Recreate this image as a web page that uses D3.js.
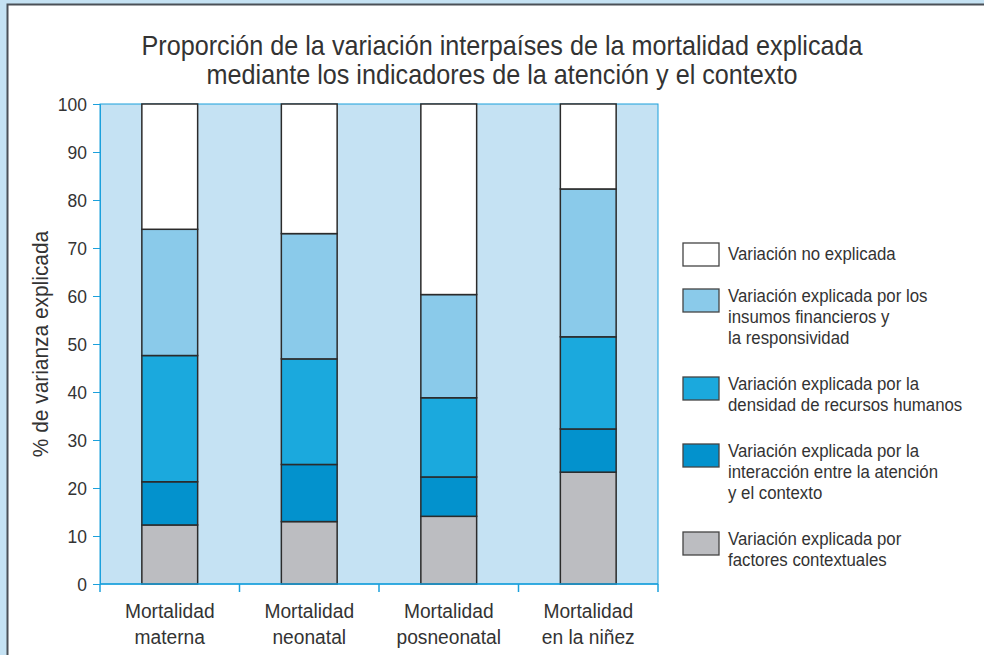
<!DOCTYPE html>
<html>
<head>
<meta charset="utf-8">
<script src="https://cdn.jsdelivr.net/npm/d3@7"></script>
<style>
  body { margin: 0; background: #fff; }
  text { font-family: "Liberation Sans", Arial, sans-serif; fill: #333; }
</style>
</head>
<body>
<script>
// data
let categories = ["Mortalidad materna", "Mortalidad neonatal", "Mortalidad posneonatal", "Mortalidad en la niñez"];
let catLines = [["Mortalidad", "materna"], ["Mortalidad", "neonatal"], ["Mortalidad", "posneonatal"], ["Mortalidad", "en la niñez"]];
let contextuales = [12.3, 13.0, 14.1, 23.3];
let interaccion = [9.0, 11.9, 8.2, 9.0];
let recursosHumanos = [26.3, 22.0, 16.5, 19.2];
let insumos = [26.3, 26.1, 21.5, 30.8];
let noExplicada = [26.1, 27.0, 39.7, 17.7];
let yTicks = [0, 10, 20, 30, 40, 50, 60, 70, 80, 90, 100];

let seriesKeys = ["ctx", "inter", "rh", "ins", "noexp"];
let seriesColors = { ctx: "#bcbdc1", inter: "#0392cd", rh: "#1ba9dd", ins: "#8acaea", noexp: "#ffffff" };
let legendItems = [
  { key: "noexp", lines: ["Variación no explicada"] },
  { key: "ins", lines: ["Variación explicada por los", "insumos financieros y", "la responsividad"] },
  { key: "rh", lines: ["Variación explicada por la", "densidad de recursos humanos"] },
  { key: "inter", lines: ["Variación explicada por la", "interacción entre la atención", "y el contexto"] },
  { key: "ctx", lines: ["Variación explicada por", "factores contextuales"] }
];

let W = 984, H = 655;
let margin = { top: 104, left: 100, bottom: 71, right: 326 };
let width = W - margin.left - margin.right;
let height = H - margin.top - margin.bottom;
let axisBlue = "#1ba0dc";

// horizontal squeeze per text group, gives the narrow look of the original
function sq(k) { return " scale(" + k + ",1)"; }

let table = categories.map((c, i) => ({
  cat: c, ctx: contextuales[i], inter: interaccion[i], rh: recursosHumanos[i], ins: insumos[i], noexp: noExplicada[i]
}));
let stacked = d3.stack().keys(seriesKeys)(table);

let svg = d3.select("body").append("svg")
  .attr("width", W)
  .attr("height", H);

// page frame
svg.append("rect").attr("width", W).attr("height", H).attr("fill", "#c5e2f3");
svg.append("rect").attr("x", 8).attr("y", 5).attr("width", W - 8).attr("height", H - 5).attr("fill", "#fff");
svg.append("path")
  .attr("d", "M7.5," + H + "V4.5H" + W)
  .attr("fill", "none").attr("stroke", "#4b5057").attr("stroke-width", 2);

// title
let title = svg.append("text")
  .attr("transform", "translate(502,0)" + sq(0.9))
  .attr("text-anchor", "middle")
  .style("font-size", "28px");
title.append("tspan").attr("x", 0).attr("y", 55).text("Proporción de la variación interpaíses de la mortalidad explicada");
title.append("tspan").attr("x", 0).attr("y", 84).text("mediante los indicadores de la atención y el contexto");

let g = svg.append("g")
  .attr("transform", "translate(" + margin.left + "," + margin.top + ")");

let x = d3.scaleBand().domain(categories).range([0, width]).padding(0);
let y = d3.scaleLinear().domain([0, 100]).range([height, 0]);

g.append("rect")
  .attr("width", width).attr("height", height)
  .attr("fill", "#c5e2f3")
  .attr("stroke", axisBlue).attr("stroke-width", 1);

let barW = x.bandwidth() * 0.4;

g.selectAll(".layer")
  .data(stacked)
  .enter().append("g")
  .attr("class", "layer")
  .attr("fill", d => seriesColors[d.key])
  .selectAll("rect")
  .data(d => d)
  .enter().append("rect")
  .attr("x", d => x(d.data.cat) + (x.bandwidth() - barW) / 2)
  .attr("width", barW)
  .attr("y", d => y(d[1]))
  .attr("height", d => y(d[0]) - y(d[1]))
  .attr("stroke", "#2b2b2b")
  .attr("stroke-width", 1.5);

// y axis
let tk = 0.92;
let yAxis = g.append("g")
  .attr("font-family", null)
  .call(d3.axisLeft(y).tickValues(yTicks).tickSize(7).tickPadding(5));
yAxis.select(".domain").attr("stroke", axisBlue);
yAxis.selectAll(".tick line").attr("stroke", axisBlue);
yAxis.selectAll(".tick text")
  .style("font-size", "19px")
  .attr("fill", "#333")
  .attr("x", -13 / tk)
  .attr("transform", sq(tk));

// x axis: ticks at band edges
let xAxis = g.append("g").attr("transform", "translate(0," + height + ")");
xAxis.append("line").attr("x1", 0).attr("x2", width).attr("stroke", axisBlue).attr("stroke-width", 1.5);
let edges = categories.map(c => x(c)).concat([width]);
xAxis.selectAll(".edge")
  .data(edges)
  .enter().append("line")
  .attr("x1", d => d).attr("x2", d => d)
  .attr("y1", 0).attr("y2", 8)
  .attr("stroke", axisBlue).attr("stroke-width", 1.5);
xAxis.selectAll(".xlab")
  .data(categories)
  .enter().append("text")
  .attr("text-anchor", "middle")
  .attr("transform", d => "translate(" + (x(d) + x.bandwidth() / 2) + ",0)" + sq(0.96))
  .style("font-size", "20px")
  .each(function (d, i) {
    let t = d3.select(this);
    catLines[i].forEach((ln, j) => {
      t.append("tspan").attr("x", 0).attr("y", 34 + j * 26).text(ln);
    });
  });

// y axis title
svg.append("text")
  .attr("transform", "translate(48," + (margin.top + height / 2) + ") rotate(-90)" + sq(0.95))
  .attr("text-anchor", "middle")
  .style("font-size", "22px")
  .text("% de varianza explicada");

// legend
let legend = svg.append("g").attr("transform", "translate(683,0)");
let ly = 243;
legendItems.forEach(item => {
  let lg = legend.append("g").attr("transform", "translate(0," + ly + ")");
  lg.append("rect")
    .attr("width", 36).attr("height", 23)
    .attr("fill", seriesColors[item.key])
    .attr("stroke", "#444").attr("stroke-width", 1.3);
  let t = lg.append("text")
    .attr("transform", "translate(45,0)" + sq(0.96))
    .style("font-size", "17.5px");
  let first = item.lines.length === 1 ? 17 : 13;
  item.lines.forEach((ln, j) => {
    t.append("tspan").attr("x", 0).attr("y", first + j * 21).text(ln);
  });
  ly += item.lines.length * 21 + 25;
});
</script>
</body>
</html>
